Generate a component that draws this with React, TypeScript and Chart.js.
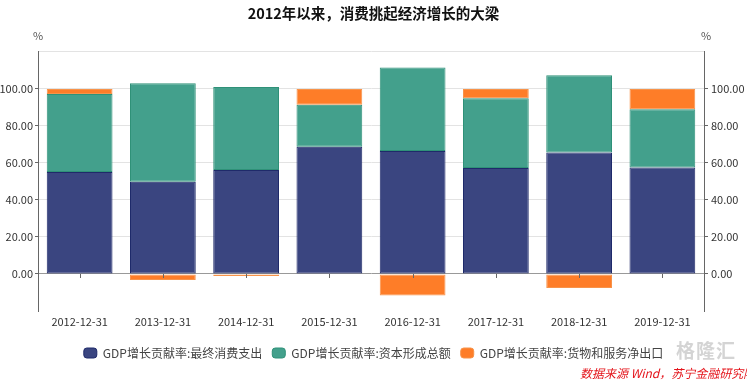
import React, { useEffect, useRef } from "react";
import { Chart, registerables } from "chart.js";

Chart.register(...registerables);

const categories = ["2012-12-31", "2013-12-31", "2014-12-31", "2015-12-31", "2016-12-31", "2017-12-31", "2018-12-31", "2019-12-31"];
const consumption = [55.1, 49.9, 56.2, 68.7, 66.4, 57.2, 65.6, 57.5];
const capital = [42.2, 53.1, 44.9, 22.8, 45.2, 37.8, 41.8, 31.5];
const netExports = [2.7, -3.3, -1.1, 8.5, -11.6, 5.0, -7.6, 11.0];
const seriesNames = ["GDP增长贡献率:最终消费支出", "GDP增长贡献率:资本形成总额", "GDP增长贡献率:货物和服务净出口"];
const yTicks = [0, 20, 40, 60, 80, 100];

const FONT = "'Microsoft YaHei', 'Noto Sans CJK SC', 'Noto Sans', sans-serif";

export default function App() {
  const ref = useRef<HTMLCanvasElement | null>(null);
  useEffect(() => {
    document.body.style.margin = "0";
    const xTickPlugin = {
      id: "xTickMarks",
      afterDraw(chart: any) {
        const ctx = chart.ctx;
        const x = chart.scales.x;
        const y0 = chart.scales.y.getPixelForValue(0);
        ctx.save();
        ctx.strokeStyle = "#666";
        ctx.lineWidth = 1;
        categories.forEach((_, i) => {
          const px = Math.round(x.getPixelForValue(i)) + 0.5;
          ctx.beginPath();
          ctx.moveTo(px, y0);
          ctx.lineTo(px, y0 + 4);
          ctx.stroke();
        });
        ctx.restore();
      },
    };
    const fmt = (v: any) => (yTicks.includes(Number(v)) ? Number(v).toFixed(2) : "");
    const chart = new Chart(ref.current as HTMLCanvasElement, {
      type: "bar",
      data: {
        labels: categories,
        datasets: [
          { label: seriesNames[0], data: consumption, backgroundColor: "#3a4580", borderColor: "#1f2a6a", borderWidth: 1, borderSkipped: false },
          { label: seriesNames[1], data: capital, backgroundColor: "#43a08c", borderColor: "#2f9178", borderWidth: 1, borderSkipped: false },
          { label: seriesNames[2], data: netExports, backgroundColor: "#fe7d28", borderColor: "#f7934a", borderWidth: 1, borderSkipped: false },
        ],
      },
      options: {
        animation: false,
        responsive: false,
        maintainAspectRatio: false,
        layout: { padding: { left: 0, right: 0, top: 0, bottom: 14 } },
        datasets: { bar: { barPercentage: 0.79, categoryPercentage: 1 } },
        plugins: {
          title: {
            display: true,
            text: "2012年以来，消费挑起经济增长的大梁",
            color: "#111",
            font: { family: FONT, size: 14.5, weight: "bold" },
            padding: { top: 5, bottom: 29.5 },
          },
          legend: {
            position: "bottom",
            labels: {
              boxWidth: 13,
              boxHeight: 10,
              useBorderRadius: true,
              borderRadius: 3,
              color: "#444",
              font: { family: FONT, size: 12 },
              padding: 10,
            },
          },
          tooltip: { enabled: false },
        },
        scales: {
          x: {
            stacked: true,
            grid: { display: false, drawTicks: false },
            border: { display: false },
            ticks: { color: "#333", font: { family: FONT, size: 11 }, padding: 4, maxRotation: 0 },
            afterFit(s: any) { s.height = 26; },
          },
          y: {
            stacked: true,
            position: "left",
            min: -20,
            max: 120,
            ticks: { stepSize: 20, color: "#333", font: { family: FONT, size: 11 }, padding: 2, callback: fmt },
            grid: {
              color: (c: any) => (c.tick && c.tick.value === 0 ? "#999" : c.tick && c.tick.value === -20 ? "rgba(0,0,0,0)" : "#e3e3e3"),
              tickColor: (c: any) => (c.tick && yTicks.includes(c.tick.value) ? "#666" : "rgba(0,0,0,0)"),
              tickLength: 3,
            },
            border: { display: true, color: "#666" },
            afterFit(s: any) { s.width = 38; },
          },
          y2: {
            position: "right",
            min: -20,
            max: 120,
            ticks: { stepSize: 20, color: "#333", font: { family: FONT, size: 11 }, padding: 3, callback: fmt },
            grid: {
              drawOnChartArea: false,
              tickColor: (c: any) => (c.tick && yTicks.includes(c.tick.value) ? "#666" : "rgba(0,0,0,0)"),
              tickLength: 4,
            },
            border: { display: true, color: "#666" },
            afterFit(s: any) { s.width = 43; },
          },
        },
      } as any,
      plugins: [xTickPlugin],
    });
    return () => chart.destroy();
  }, []);

  return (
    <div style={{ position: "absolute", left: 0, top: 0, width: 747, height: 383, background: "#fff", overflow: "hidden" }}>
      <canvas ref={ref} width={747} height={383} style={{ display: "block" }} />
      <div style={{ position: "absolute", left: 33, top: 27, font: `11px ${FONT}`, color: "#555" }}>%</div>
      <div style={{ position: "absolute", left: 701, top: 27, font: `11px ${FONT}`, color: "#555" }}>%</div>
      <div style={{ position: "absolute", left: 676, top: 336, font: `bold 19px ${FONT}`, color: "rgba(170,170,170,0.5)", letterSpacing: 1 }}>格隆汇</div>
      <div style={{ position: "absolute", left: 580, top: 364, font: `italic 12px ${FONT}`, color: "#e4141b", whiteSpace: "nowrap" }}>数据来源 Wind，苏宁金融研究院</div>
    </div>
  );
}
